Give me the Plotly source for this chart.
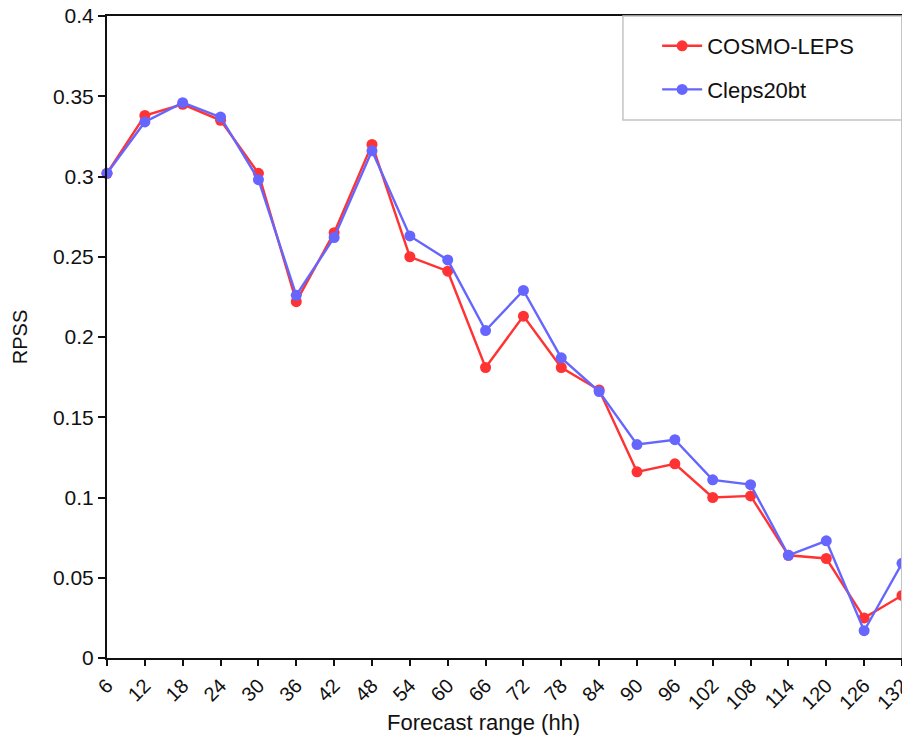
import plotly.graph_objects as go

# Forecast lead times (hours)
lead_hours = [6, 12, 18, 24, 30, 36, 42, 48, 54, 60, 66, 72, 78, 84, 90, 96, 102, 108, 114, 120, 126, 132]

# RPSS per lead time for each ensemble system
cosmo_leps = [0.302, 0.338, 0.345, 0.335, 0.302, 0.222, 0.265, 0.320, 0.250, 0.241, 0.181,
              0.213, 0.181, 0.167, 0.116, 0.121, 0.100, 0.101, 0.064, 0.062, 0.025, 0.039]
cleps20bt = [0.302, 0.334, 0.346, 0.337, 0.298, 0.226, 0.262, 0.316, 0.263, 0.248, 0.204,
             0.229, 0.187, 0.166, 0.133, 0.136, 0.111, 0.108, 0.064, 0.073, 0.017, 0.059]

y_ticks = [0, 0.05, 0.1, 0.15, 0.2, 0.25, 0.3, 0.35, 0.4]
y_tick_text = ["0", "0.05", "0.1", "0.15", "0.2", "0.25", "0.3", "0.35", "0.4"]

FONT = "Liberation Sans, Arial, sans-serif"
INK = "#111111"
FRAME = "#c4c4c4"

fig = go.Figure()
fig.add_trace(go.Scatter(
    x=lead_hours, y=cosmo_leps, name="COSMO-LEPS", legendgroup="a",
    mode="lines+markers", line=dict(color="#ff3333", width=2.4),
    marker=dict(color="#ff3333", size=11), cliponaxis=False,
))
fig.add_trace(go.Scatter(
    x=lead_hours, y=cleps20bt, name="Cleps20bt", legendgroup="b",
    mode="lines+markers", line=dict(color="#6666ff", width=2.4),
    marker=dict(color="#6666ff", size=11), cliponaxis=False,
))

# legend frame, spanning to the right edge of the plot
fig.add_shape(type="rect", xref="paper", yref="paper",
              x0=0.649, x1=1.0, y0=0.838, y1=1.0,
              line=dict(color=FRAME, width=1.5), fillcolor="white", layer="above")
# light right-hand border of the plot frame
fig.add_shape(type="line", xref="paper", yref="paper",
              x0=1.0, x1=1.0, y0=0, y1=1.0,
              line=dict(color=FRAME, width=2), layer="above")

# x-axis title
fig.add_annotation(text="Forecast range (hh)", xref="paper", yref="paper",
                   x=0.473, y=-0.0997, xanchor="center", yanchor="middle",
                   showarrow=False, font=dict(family=FONT, size=22, color=INK))

fig.update_layout(
    width=902, height=740,
    margin=dict(l=107, r=0, t=16, b=82),
    paper_bgcolor="white", plot_bgcolor="white",
    font=dict(family=FONT, size=20, color=INK),
    showlegend=True,
    legend=dict(
        x=0.692, y=0.986, xanchor="left", yanchor="top",
        borderwidth=0, bgcolor="rgba(0,0,0,0)",
        font=dict(family=FONT, size=22, color=INK),
        tracegroupgap=12, itemwidth=40,
    ),
    xaxis=dict(
        range=[6, 132], tickmode="array", tickvals=lead_hours,
        ticktext=[str(h) for h in lead_hours], tickangle=-45,
        ticks="outside", ticklen=6, tickwidth=2, tickcolor=INK,
        showline=True, linecolor=INK, linewidth=2, mirror=True,
        showgrid=False, zeroline=False, ticklabeloverflow="allow",
        automargin=False,
        tickfont=dict(family=FONT, size=20),
    ),
    yaxis=dict(
        range=[0, 0.4], tickmode="array", tickvals=y_ticks, ticktext=y_tick_text,
        ticks="outside", ticklen=7, tickwidth=2, tickcolor=INK,
        showline=True, linecolor=INK, linewidth=2,
        showgrid=False, zeroline=False, automargin=False,
        tickfont=dict(family=FONT, size=21),
        title=dict(text="RPSS", font=dict(family=FONT, size=20), standoff=20),
    ),
)

fig.write_html("out.html")
